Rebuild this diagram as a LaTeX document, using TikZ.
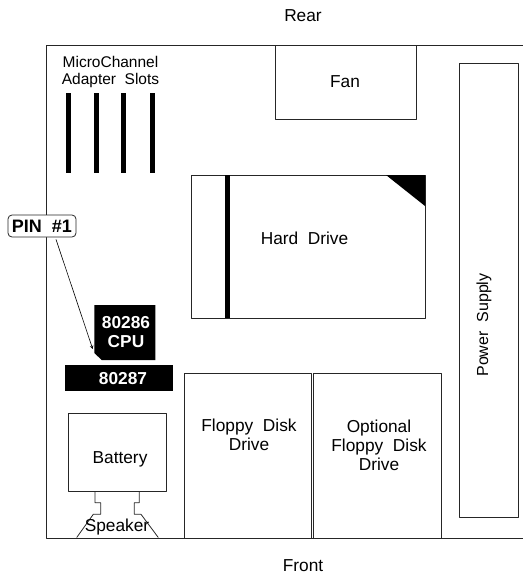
\documentclass[tikz,border=0pt]{standalone}
\usepackage{fontspec}
\setmainfont{Liberation Sans}
\tikzset{
	part/.style={draw=black!85, line width=0.8pt},
	lbl/.style={align=center, inner sep=0pt, font=\fontsize{17.3}{19}\selectfont},
	blk/.style={align=center, inner sep=0pt, text=white, font=\fontsize{17.3}{19}\selectfont\bfseries}
}
\begin{document}
\begin{tikzpicture}[x=1pt, y=-1pt, line join=round, >=stealth]
	\useasboundingbox (0,0) rectangle (523,574);
	% Vo may (ben phai de ho)
	\draw[part] (523,45.5) -- (46.5,45.5) -- (46.5,538) -- (523,538);
	\node[lbl] (rear) at (303,16) {Rear};
	\node[lbl, anchor=base] (front) at (303,571) {Front};

	% Khe cam
	\foreach \sx in {66,94,121,150}
		\fill (\sx,93) rectangle (\sx+5.2,173);
	\node[lbl, font=\fontsize{15.5}{17}\selectfont] (slots) at (110.5,71.5) {MicroChannel\\Adapter\ \ Slots};

	% Quat va nguon
	\draw[part] (275.7,45.5) rectangle (416.7,119.5);
	\node[lbl] (fan) at (345,82) {Fan};
	\draw[part] (459.5,63.5) rectangle (518,517);
	\node[lbl, rotate=90, font=\fontsize{16}{19}\selectfont] (power) at (484,325) {Power\ \ Supply};

	% O cung
	\draw[part] (191.3,175) rectangle (425,318);
	\fill (225,175) rectangle (230,318);
	\fill (386,175) -- (425,175) -- (425,206) -- cycle;
	\node[lbl] (hdd) at (304.5,238) {Hard\ \ Drive};

	% CPU va 80287
	\fill (94.3,305) -- (155.3,305) -- (155.3,360) -- (101.7,360) -- (94.3,353) -- cycle;
	\node[blk] (cpu) at (126,332) {80286\\CPU};
	\fill (64.5,365) rectangle (173,391);
	\node[blk] (fpu) at (123,379) {80287};

	% Nhan PIN #1
	\node[draw=black!85, line width=0.8pt, rounded corners=4pt, fill=white, inner sep=0pt,
		minimum width=68pt, minimum height=22pt, font=\fontsize{18}{19}\selectfont\bfseries] (pin) at (42,226) {PIN\ \ \#1};
	\coordinate (pintip) at (92.7,349);
	\draw[->, line width=0.6pt] ([xshift=14pt,yshift=-2pt]pin.south) -- (pintip);

	% Pin va loa
	\draw[part] (68.3,413.3) rectangle (166.3,491.3);
	\node[lbl] (battery) at (120,459) {Battery};
	\draw[part] (95,491.3) -- (95,502.7) -- (100.7,502.7) -- (100.7,514.3) -- (93.3,514.3) -- (76.7,537.5);
	\draw[part] (139.3,491.3) -- (139.3,502.7) -- (134.3,502.7) -- (134.3,514.3) -- (141,514.3) -- (158.3,537.5);
	\node[lbl] (speaker) at (117,527.5) {Speaker};

	% O dia mem
	\draw[part] (184,373.3) rectangle (311.7,538);
	\node[lbl] (floppy) at (249,435) {Floppy\ \ Disk\\Drive};
	\draw[part] (313.5,373.3) rectangle (441,538);
	\node[lbl] (optional) at (379,445) {Optional\\Floppy\ \ Disk\\Drive};
\end{tikzpicture}
\end{document}
